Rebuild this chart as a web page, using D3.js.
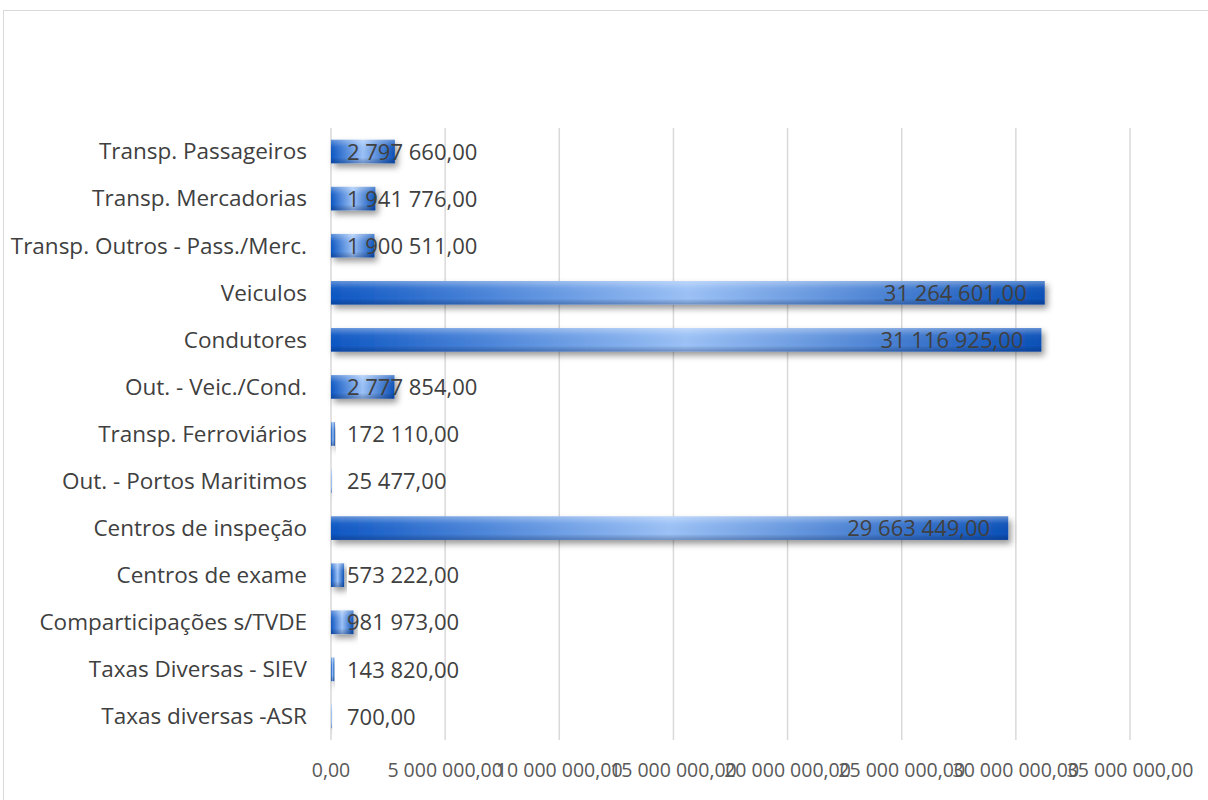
<!DOCTYPE html>
<html>
<head>
<meta charset="utf-8">
<script src="https://cdn.jsdelivr.net/npm/d3@7"></script>
<style>
  html, body { margin: 0; padding: 0; background: #ffffff; }
  svg { display: block; font-family: "Open Sans", "Liberation Sans", sans-serif; }
</style>
</head>
<body>
<svg id="chart" width="1208" height="800"></svg>
<script>
// Receita por rubrica (valores em euros)
const categories = [
  "Transp. Passageiros",
  "Transp. Mercadorias",
  "Transp. Outros - Pass./Merc.",
  "Veiculos",
  "Condutores",
  "Out. - Veic./Cond.",
  "Transp. Ferroviários",
  "Out. - Portos Maritimos",
  "Centros de inspeção",
  "Centros de exame",
  "Comparticipações s/TVDE",
  "Taxas Diversas - SIEV",
  "Taxas diversas -ASR"
];
const values = [
  2797660, 1941776, 1900511, 31264601, 31116925, 2777854,
  172110, 25477, 29663449, 573222, 981973, 143820, 700
];
const tickValues = [0, 5000000, 10000000, 15000000, 20000000, 25000000, 30000000, 35000000];

const pt = d3.formatLocale({ decimal: ",", thousands: " ", grouping: [3], currency: ["", ""] });
const fmt = pt.format(",.2f");

const svg = d3.select("#chart");
const W = 1208, H = 800;
const plot = { left: 331, right: 1130, top: 128, bottom: 740 };

// chart area frame
svg.append("rect")
  .attr("x", 3.5).attr("y", 10.5)
  .attr("width", W + 10).attr("height", H + 10)
  .attr("fill", "#ffffff").attr("stroke", "#d9d9d9").attr("stroke-width", 1);

const defs = svg.append("defs");
const hGrad = defs.append("linearGradient").attr("id", "barH")
  .attr("x1", "0").attr("x2", "1").attr("y1", "0").attr("y2", "0");
hGrad.append("stop").attr("offset", "0").attr("stop-color", "#0e57c4");
hGrad.append("stop").attr("offset", "0.5").attr("stop-color", "#9cc2f7");
hGrad.append("stop").attr("offset", "1").attr("stop-color", "#0b50b8");

const vGrad = defs.append("linearGradient").attr("id", "barV")
  .attr("x1", "0").attr("x2", "0").attr("y1", "0").attr("y2", "1");
vGrad.append("stop").attr("offset", "0").attr("stop-color", "#ffffff").attr("stop-opacity", 0.35);
vGrad.append("stop").attr("offset", "0.3").attr("stop-color", "#ffffff").attr("stop-opacity", 0.05);
vGrad.append("stop").attr("offset", "0.75").attr("stop-color", "#000000").attr("stop-opacity", 0.0);
vGrad.append("stop").attr("offset", "1").attr("stop-color", "#001a55").attr("stop-opacity", 0.3);

const shadow = defs.append("filter").attr("id", "shadow")
  .attr("x", "-10%").attr("y", "-50%").attr("width", "130%").attr("height", "250%");
shadow.append("feDropShadow").attr("dx", 3).attr("dy", 4).attr("stdDeviation", 3)
  .attr("flood-color", "#000000").attr("flood-opacity", 0.4);

const x = d3.scaleLinear().domain([0, 35000000]).range([plot.left, plot.right]);
const y = d3.scaleBand().domain(categories).range([plot.top, plot.bottom]).paddingInner(0.5).paddingOuter(0.25);

// vertical gridlines
svg.append("g").selectAll("line").data(tickValues).join("line")
  .attr("x1", d => x(d)).attr("x2", d => x(d))
  .attr("y1", plot.top).attr("y2", plot.bottom)
  .attr("stroke", "#d9d9d9").attr("stroke-width", 1.5);

// tick labels along the bottom
svg.append("g").selectAll("text").data(tickValues).join("text")
  .attr("x", d => x(d)).attr("y", 777)
  .attr("text-anchor", "middle")
  .attr("font-size", 19.5).attr("fill", "#595959")
  .text(d => fmt(d));

// category labels
svg.append("g").selectAll("text").data(categories).join("text")
  .attr("x", 307).attr("y", d => y(d) + y.bandwidth() / 2)
  .attr("dy", "0.35em").attr("text-anchor", "end")
  .attr("font-size", 22.5).attr("fill", "#404040")
  .text(d => d);

// bars
const bars = svg.append("g");
const rows = categories.map((c, i) => ({ c, v: values[i] }));
bars.selectAll("rect.bar").data(rows).join("rect").attr("class", "bar")
  .attr("x", x(0)).attr("y", d => y(d.c))
  .attr("width", d => Math.max(1, x(d.v) - x(0))).attr("height", y.bandwidth())
  .attr("fill", "url(#barH)").attr("filter", "url(#shadow)");
bars.selectAll("rect.sheen").data(rows).join("rect").attr("class", "sheen")
  .attr("x", x(0)).attr("y", d => y(d.c))
  .attr("width", d => Math.max(1, x(d.v) - x(0))).attr("height", y.bandwidth())
  .attr("fill", "url(#barV)");

// value labels, placed at the inside end of each bar
const labels = svg.append("g").attr("font-size", 22).attr("fill", "#404040");
labels.selectAll("text").data(rows).join("text")
  .attr("y", d => y(d.c) + y.bandwidth() / 2).attr("dy", "0.37em")
  .text(d => fmt(d.v))
  .each(function (d) {
    const w = this.getComputedTextLength();
    const endX = x(d.v) - 18;
    const startX = Math.max(x(0) + 16, endX - w);
    d3.select(this).attr("x", startX);
  });
</script>
</body>
</html>
